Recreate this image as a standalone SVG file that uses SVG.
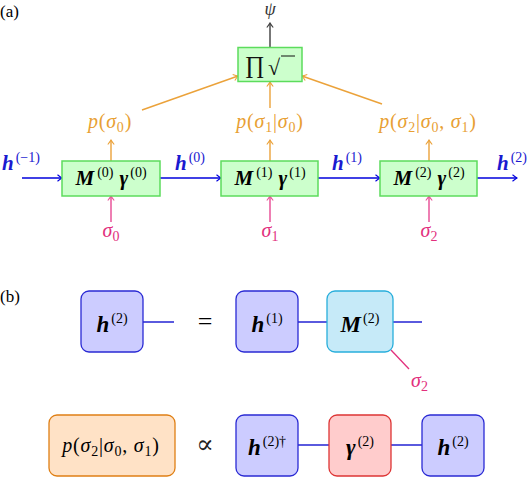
<svg xmlns="http://www.w3.org/2000/svg" width="530" height="478" viewBox="0 0 530 478">
<defs>
<style>
text{font-family:"Liberation Serif","DejaVu Serif",serif;}
.lbl{font-size:17px;fill:#000;}
.m{font-size:20px;}
.mb{font-size:21px;font-weight:bold;font-style:italic;}
.mbb{font-size:23px;font-weight:bold;font-style:italic;}
.it{font-style:italic;}
.sup{font-size:14px;font-weight:normal;font-style:normal;}
.sub{font-size:14px;font-weight:normal;font-style:normal;}
.green{fill:#ccffcc;stroke:#5cdc5c;stroke-width:1.5;}
.blue{fill:#1a1ad0;}
.orange{fill:#e8a033;}
.pink{fill:#e2307d;}
.ab{stroke:#0000dd;stroke-width:1.3;fill:none;}
.ao{stroke:#eba23a;stroke-width:1.4;fill:none;}
.ap{stroke:#e8559a;stroke-width:1.5;fill:none;}
.ag{stroke:#555;stroke-width:1.6;fill:none;}
.hb{fill:#ccccff;stroke:#2a2ad4;stroke-width:1.3;}
.mbx{fill:#c6eaf8;stroke:#28aedb;stroke-width:1.3;}
.gb{fill:#ffcccc;stroke:#dd3535;stroke-width:1.3;}
.pb{fill:#ffe2c6;stroke:#df7f14;stroke-width:1.3;}
.bl{stroke:#0000cc;stroke-width:1.3;fill:none;}
</style>
<marker id="mb" viewBox="-6 -4 7 8" refX="0" refY="0" markerWidth="7" markerHeight="8" markerUnits="userSpaceOnUse" orient="auto"><path d="M-4.5,-3.2 Q-1.5,-0.8 0,0 Q-1.5,0.8 -4.5,3.2" fill="none" stroke="#0000dd" stroke-width="1.1"/></marker>
<marker id="mo" viewBox="-6 -4 7 8" refX="0" refY="0" markerWidth="7" markerHeight="8" markerUnits="userSpaceOnUse" orient="auto"><path d="M-4.5,-3.2 Q-1.5,-0.8 0,0 Q-1.5,0.8 -4.5,3.2" fill="none" stroke="#eba23a" stroke-width="1.1"/></marker>
<marker id="mp" viewBox="-6 -4 7 8" refX="0" refY="0" markerWidth="7" markerHeight="8" markerUnits="userSpaceOnUse" orient="auto"><path d="M-4.5,-3.2 Q-1.5,-0.8 0,0 Q-1.5,0.8 -4.5,3.2" fill="none" stroke="#e8559a" stroke-width="1.1"/></marker>
<marker id="mg" viewBox="-6 -4 7 8" refX="0" refY="0" markerWidth="7" markerHeight="8" markerUnits="userSpaceOnUse" orient="auto"><path d="M-4.5,-3.2 Q-1.5,-0.8 0,0 Q-1.5,0.8 -4.5,3.2" fill="none" stroke="#444" stroke-width="1.2"/></marker>
</defs>
<rect width="530" height="478" fill="#fff"/>

<text class="lbl" x="0" y="17">(a)</text>
<text class="lbl" x="0" y="302">(b)</text>

<!-- connectors (a) -->
<g id="connectors-a">
<line class="ag" x1="270" y1="47" x2="270" y2="23" marker-end="url(#mg)"/>
<line class="ab" x1="22" y1="178" x2="62" y2="178" marker-end="url(#mb)"/>
<line class="ab" x1="160" y1="178" x2="221" y2="178" marker-end="url(#mb)"/>
<line class="ab" x1="318" y1="178" x2="380" y2="178" marker-end="url(#mb)"/>
<line class="ab" x1="477" y1="178" x2="517" y2="178" marker-end="url(#mb)"/>
<line class="ap" x1="111" y1="222" x2="111" y2="196" marker-end="url(#mp)"/>
<line class="ap" x1="270" y1="222" x2="270" y2="196" marker-end="url(#mp)"/>
<line class="ap" x1="429" y1="222" x2="429" y2="196" marker-end="url(#mp)"/>
<line class="ao" x1="111" y1="161" x2="111" y2="140" marker-end="url(#mo)"/>
<line class="ao" x1="270" y1="161" x2="270" y2="140" marker-end="url(#mo)"/>
<line class="ao" x1="429" y1="161" x2="429" y2="140" marker-end="url(#mo)"/>
<line class="ao" x1="142" y1="110" x2="238" y2="76" marker-end="url(#mo)"/>
<line class="ao" x1="270" y1="108" x2="270" y2="82" marker-end="url(#mo)"/>
<line class="ao" x1="382" y1="104" x2="302" y2="76" marker-end="url(#mo)"/>
</g>

<text class="it" x="270" y="15" font-size="18" text-anchor="middle" fill="#333">ψ</text>

<g id="prod">
<rect class="green" x="238" y="47.5" width="64" height="34"/>
<text x="245" y="73" font-size="24" fill="#111">∏</text>
<text x="268" y="75" font-size="22" fill="#111">√</text>
<line x1="281" y1="56" x2="295" y2="56" stroke="#111" stroke-width="1"/>
</g>

<g id="m0">
<rect class="green" x="62" y="161" width="98" height="35"/>
<text class="mb" x="111" y="185" text-anchor="middle">M<tspan class="sup" dx="3" dy="-8">(0)</tspan><tspan class="mb" dx="6" dy="8">γ</tspan><tspan class="sup" dx="2" dy="-8">(0)</tspan></text>
</g>
<g id="m1">
<rect class="green" x="221" y="161" width="97" height="35"/>
<text class="mb" x="270" y="185" text-anchor="middle">M<tspan class="sup" dx="3" dy="-8">(1)</tspan><tspan class="mb" dx="6" dy="8">γ</tspan><tspan class="sup" dx="2" dy="-8">(1)</tspan></text>
</g>
<g id="m2">
<rect class="green" x="380" y="161" width="97" height="35"/>
<text class="mb" x="429" y="185" text-anchor="middle">M<tspan class="sup" dx="3" dy="-8">(2)</tspan><tspan class="mb" dx="6" dy="8">γ</tspan><tspan class="sup" dx="2" dy="-8">(2)</tspan></text>
</g>

<g id="h-labels">
<text class="mb blue" x="2" y="170">h<tspan class="sup" dx="2" dy="-8">(−1)</tspan></text>
<text class="mb blue" x="175" y="170">h<tspan class="sup" dx="2" dy="-8">(0)</tspan></text>
<text class="mb blue" x="332" y="170">h<tspan class="sup" dx="2" dy="-8">(1)</tspan></text>
<text class="mb blue" x="497" y="170">h<tspan class="sup" dx="2" dy="-8">(2)</tspan></text>
</g>

<g id="sigma-labels">
<text class="m pink" x="111" y="237" text-anchor="middle"><tspan class="it">σ</tspan><tspan class="sub" dy="4">0</tspan></text>
<text class="m pink" x="270" y="237" text-anchor="middle"><tspan class="it">σ</tspan><tspan class="sub" dy="4">1</tspan></text>
<text class="m pink" x="429" y="237" text-anchor="middle"><tspan class="it">σ</tspan><tspan class="sub" dy="4">2</tspan></text>
</g>

<g id="p-labels">
<text class="m orange" x="110" y="128" text-anchor="middle" letter-spacing="0.8"><tspan class="it">p</tspan>(<tspan class="it">σ</tspan><tspan class="sub" dy="4">0</tspan><tspan dy="-4">)</tspan></text>
<text class="m orange" x="270" y="128" text-anchor="middle" letter-spacing="0.8"><tspan class="it">p</tspan>(<tspan class="it">σ</tspan><tspan class="sub" dy="4">1</tspan><tspan dy="-4">|</tspan><tspan class="it">σ</tspan><tspan class="sub" dy="4">0</tspan><tspan dy="-4">)</tspan></text>
<text class="m orange" x="428" y="128" text-anchor="middle" letter-spacing="0.8"><tspan class="it">p</tspan>(<tspan class="it">σ</tspan><tspan class="sub" dy="4">2</tspan><tspan dy="-4">|</tspan><tspan class="it">σ</tspan><tspan class="sub" dy="4">0</tspan><tspan dy="-4">, </tspan><tspan class="it">σ</tspan><tspan class="sub" dy="4">1</tspan><tspan dy="-4">)</tspan></text>
</g>

<!-- (b) connectors -->
<g id="connectors-b">
<line class="bl" x1="143" y1="322" x2="174" y2="322"/>
<line class="bl" x1="298" y1="322" x2="327" y2="322"/>
<line class="bl" x1="393" y1="322" x2="422" y2="322"/>
<line x1="391" y1="350" x2="409" y2="369" stroke="#e2307d" stroke-width="1.3"/>
<line class="bl" x1="298" y1="445" x2="329" y2="445"/>
<line class="bl" x1="391" y1="445" x2="422" y2="445"/>
</g>

<g id="b-h2">
<rect class="hb" x="81" y="291" width="62" height="61" rx="8"/>
<text class="mbb" x="112" y="332" text-anchor="middle">h<tspan class="sup" dx="2" dy="-9">(2)</tspan></text>
</g>
<text x="205" y="330" font-size="26" text-anchor="middle">=</text>
<g id="b-h1">
<rect class="hb" x="236" y="291" width="62" height="61" rx="8"/>
<text class="mbb" x="267" y="332" text-anchor="middle">h<tspan class="sup" dx="2" dy="-9">(1)</tspan></text>
</g>
<g id="b-M2">
<rect class="mbx" x="327" y="291" width="66" height="61" rx="8"/>
<text class="mbb" x="360" y="332" text-anchor="middle">M<tspan class="sup" dx="2" dy="-9">(2)</tspan></text>
</g>
<text class="m pink" x="411" y="387"><tspan class="it">σ</tspan><tspan class="sub" dy="4">2</tspan></text>

<g id="b-p">
<rect class="pb" x="49" y="415" width="126" height="61" rx="8"/>
<text class="m" x="111" y="452" text-anchor="middle" letter-spacing="0.8"><tspan class="it">p</tspan>(<tspan class="it">σ</tspan><tspan class="sub" dy="4">2</tspan><tspan dy="-4">|</tspan><tspan class="it">σ</tspan><tspan class="sub" dy="4">0</tspan><tspan dy="-4">, </tspan><tspan class="it">σ</tspan><tspan class="sub" dy="4">1</tspan><tspan dy="-4">)</tspan></text>
</g>
<text x="205" y="453" font-size="26" text-anchor="middle" fill="#222" style="font-family:'DejaVu Serif',serif;font-weight:normal">∝</text>
<g id="b-h2dag">
<rect class="hb" x="236" y="415" width="62" height="61" rx="8"/>
<text class="mbb" x="267" y="455" text-anchor="middle">h<tspan class="sup" dx="2" dy="-9">(2)†</tspan></text>
</g>
<g id="b-gamma">
<rect class="gb" x="329" y="415" width="62" height="61" rx="8"/>
<text class="mbb" x="360" y="455" text-anchor="middle">γ<tspan class="sup" dx="2" dy="-9">(2)</tspan></text>
</g>
<g id="b-h2b">
<rect class="hb" x="422" y="415" width="62" height="61" rx="8"/>
<text class="mbb" x="453" y="455" text-anchor="middle">h<tspan class="sup" dx="2" dy="-9">(2)</tspan></text>
</g>
</svg>
